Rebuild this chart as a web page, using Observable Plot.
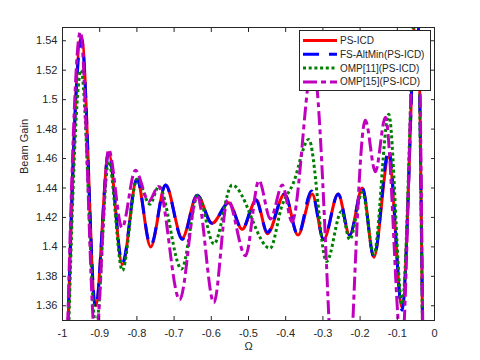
<!DOCTYPE html>
<html><head><meta charset="utf-8">
<script src="https://cdn.jsdelivr.net/npm/d3@7"></script>
<script src="https://cdn.jsdelivr.net/npm/@observablehq/plot@0.6"></script>
<style>
body{margin:0;background:#fff;}
#wrap{position:relative;width:480px;height:360px;font-family:"Liberation Sans",Arial,sans-serif;}
</style></head><body><div id="wrap"></div>
<script>
// [Omega, beam gain] (extrema of each curve)
const psIcd = [[-1.0,1.20],[-0.949,1.543],[-0.911,1.360],[-0.876,1.464],[-0.839,1.388],[-0.800,1.446],[-0.763,1.400],[-0.723,1.442],[-0.678,1.406],[-0.638,1.435],[-0.598,1.416],[-0.553,1.430],[-0.517,1.412],[-0.479,1.432],[-0.449,1.409],[-0.403,1.436],[-0.367,1.408],[-0.329,1.436],[-0.298,1.405],[-0.259,1.436],[-0.228,1.408],[-0.194,1.440],[-0.163,1.393],[-0.123,1.461],[-0.087,1.359],[-0.047,1.57],[-0.02,1.15],[0,1.10]];
const fsAltMin = [[-1.0,1.20],[-0.949,1.541],[-0.911,1.359],[-0.876,1.464],[-0.839,1.389],[-0.800,1.446],[-0.763,1.401],[-0.723,1.442],[-0.678,1.405],[-0.638,1.435],[-0.598,1.416],[-0.553,1.430],[-0.517,1.412],[-0.481,1.432],[-0.449,1.410],[-0.403,1.436],[-0.367,1.408],[-0.331,1.438],[-0.298,1.405],[-0.259,1.436],[-0.228,1.408],[-0.194,1.440],[-0.163,1.393],[-0.123,1.466],[-0.087,1.357],[-0.047,1.57],[-0.02,1.15],[0,1.10]];
const omp11 = [[-1.0,1.18],[-0.950,1.520],[-0.910,1.345],[-0.876,1.458],[-0.839,1.384],[-0.800,1.446],[-0.765,1.429],[-0.741,1.441],[-0.680,1.385],[-0.636,1.435],[-0.593,1.402],[-0.544,1.442],[-0.442,1.399],[-0.410,1.428],[-0.380,1.443],[-0.338,1.473],[-0.290,1.390],[-0.250,1.424],[-0.228,1.405],[-0.194,1.437],[-0.163,1.395],[-0.123,1.490],[-0.087,1.361],[-0.048,1.58],[-0.02,1.15],[0,1.10]];
const omp15 = [[-1.0,1.20],[-0.952,1.546],[-0.911,1.335],[-0.876,1.466],[-0.840,1.413],[-0.804,1.452],[-0.768,1.431],[-0.742,1.441],[-0.685,1.364],[-0.638,1.435],[-0.593,1.362],[-0.556,1.432],[-0.508,1.394],[-0.472,1.445],[-0.441,1.419],[-0.409,1.442],[-0.383,1.417],[-0.327,1.525],[-0.250,1.23],[-0.186,1.486],[-0.159,1.451],[-0.132,1.488],[-0.088,1.33],[-0.047,1.60],[-0.02,1.15],[0,1.10]];

const seriesNames = ["PS-ICD","FS-AltMin(PS-ICD)","OMP[11](PS-ICD)","OMP[15](PS-ICD)"];
const seriesColors = ["#ff0000","#0000ff","#008000","#bf00bf"];
const seriesDash = [undefined,"16,10","3,2.7","14,4,5,4"];
const xTicks = [-1,-0.9,-0.8,-0.7,-0.6,-0.5,-0.4,-0.3,-0.2,-0.1,0];
const yTicks = [1.36,1.38,1.4,1.42,1.44,1.46,1.48,1.5,1.52,1.54];
const xLabel = "Ω";
const yLabel = "Beam Gain";

const fmt = d => String(+(+d).toFixed(2));
const allSeries = [psIcd, fsAltMin, omp11, omp15];

const lineMarks = allSeries.map((s, i) => Plot.line(s, {
  x: d => d[0], y: d => d[1],
  stroke: seriesColors[i], strokeWidth: 3,
  strokeDasharray: seriesDash[i],
  strokeLinecap: i === 0 ? "round" : "butt",
  curve: "monotone-x", clip: true
}));

const chart = Plot.plot({
  width: 480, height: 360,
  marginLeft: 62, marginRight: 46, marginTop: 27, marginBottom: 40,
  x: {domain: [-1, 0]},
  y: {domain: [1.35, 1.549]},
  style: {fontFamily: "'Liberation Sans', Arial, sans-serif", fontSize: "11px", color: "#262626", background: "white", overflow: "visible"},
  marks: [
    ...lineMarks,
    Plot.frame({stroke: "#262626", strokeWidth: 1}),
    Plot.axisX(xTicks, {anchor: "bottom", tickSize: -4, tickPadding: 13, tickFormat: fmt, label: null}),
    Plot.axisX(xTicks, {anchor: "top", tickSize: -4, tickFormat: () => "", label: null}),
    Plot.axisY(yTicks, {anchor: "left", tickSize: -4, tickPadding: 9, tickFormat: fmt, label: null}),
    Plot.axisY(yTicks, {anchor: "right", tickSize: -4, tickFormat: () => "", label: null}),
    Plot.text([xLabel], {frameAnchor: "bottom", dy: 29, fontSize: 11, fill: "#262626"}),
    Plot.text([yLabel], {frameAnchor: "left", rotate: -90, dx: -38, fontSize: 11, fill: "#262626"})
  ]
});
document.getElementById("wrap").appendChild(chart);

// legend (inside the plot, top right)
const lg = d3.select("#wrap").append("svg")
  .attr("width", 133).attr("height", 62)
  .style("position", "absolute").style("left", "299px").style("top", "30px");
lg.append("rect").attr("x", 0.5).attr("y", 0.5).attr("width", 131).attr("height", 60)
  .attr("fill", "white").attr("stroke", "#262626").attr("stroke-width", 1);
seriesNames.forEach((n, i) => {
  const cy = 10.5 + i * 13.8;
  lg.append("line").attr("x1", 4).attr("x2", 38).attr("y1", cy).attr("y2", cy)
    .attr("stroke", seriesColors[i]).attr("stroke-width", 3)
    .attr("stroke-dasharray", seriesDash[i] || null)
    .attr("stroke-linecap", "butt");
  lg.append("text").attr("x", 41).attr("y", cy).attr("dy", "0.35em")
    .attr("font-size", 10).attr("fill", "#262626")
    .attr("font-family", "'Liberation Sans', Arial, sans-serif").text(n);
});
</script></body></html>
